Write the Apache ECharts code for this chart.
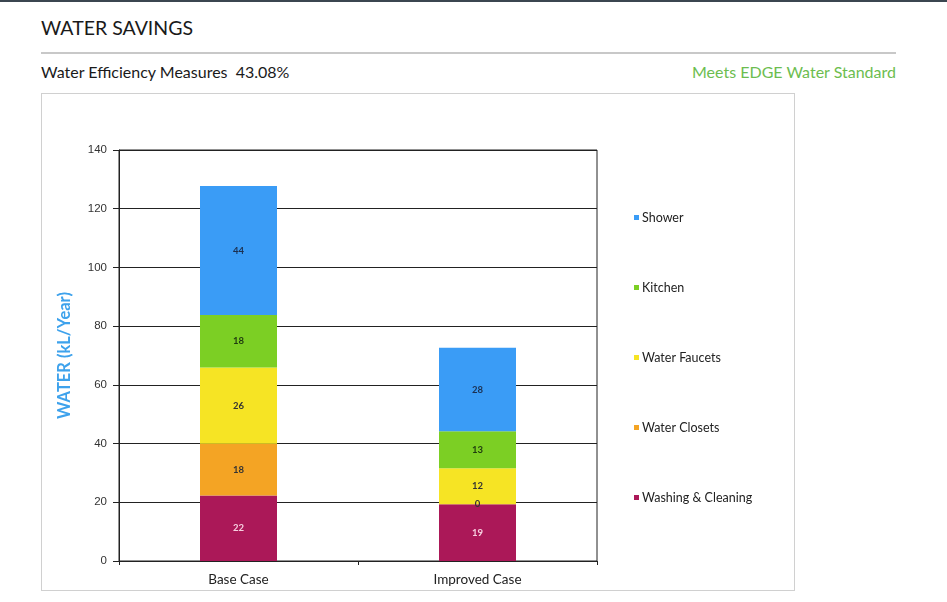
<!DOCTYPE html>
<html>
<head>
<meta charset="utf-8">
<script src="https://cdn.jsdelivr.net/npm/echarts@6/dist/echarts.min.js"></script>
<style>
  html, body { margin:0; padding:0; background:#fff; width:947px; height:602px; overflow:hidden; font-family: Lato, "Open Sans", sans-serif; }
  #topbar { position:absolute; left:0; top:0; width:947px; height:2px; background:#3b4650; }
  #title { position:absolute; left:41px; top:16px; font-size:19.5px; color:#1a1a1a; }
  #rule { position:absolute; left:41px; top:52px; width:855px; height:2px; background:#c8c8c8; }
  #sub { position:absolute; left:41px; top:62px; font-size:16px; color:#1a1a1a; }
  #meets { position:absolute; right:51px; top:62px; font-size:16px; color:#6cbd4f; }
  #box { position:absolute; left:41px; top:93px; width:752px; height:496px; border:1px solid #d0d0d0; }
  #chart { position:absolute; left:0; top:0; width:947px; height:602px; }
</style>
</head>
<body>
<div id="topbar"></div>
<div id="title">WATER SAVINGS</div>
<div id="rule"></div>
<div id="sub">Water Efficiency Measures&nbsp; 43.08%</div>
<div id="meets">Meets EDGE Water Standard</div>
<div id="box"></div>
<div id="chart"></div>
<script>
const categories = ["Base Case", "Improved Case"];
const washing = [22.3, 19.3];
const closets = [17.6, 0];
const faucets = [26.0, 12.3];
const kitchen = [17.9, 12.6];
const shower = [43.9, 28.4];
const yTicks = [0, 20, 40, 60, 80, 100, 120, 140];

const chart = echarts.init(document.getElementById('chart'), null, {renderer:'canvas'});

function mk(name, data, color, labelColor) {
  return {
    name: name, type: 'bar', stack: 'total', data: data, barWidth: 77,
    itemStyle: { color: color },
    label: { show: true, position: 'inside', color: labelColor, fontSize: 9.5, fontWeight: 'bold',
             fontFamily: 'Lato', formatter: p => Math.round(p.value) },
    emphasis: { disabled: true }
  };
}

chart.setOption({
  animation: false,
  grid: { left: 119, right: 350, top: 150, bottom: 41, show: true, borderColor: '#222', borderWidth: 1, backgroundColor: 'transparent' },
  legend: {
    orient: 'vertical', left: 629, top: 206, itemWidth: 5, itemHeight: 5, itemGap: 57,
    icon: 'rect', selectedMode: false,
    textStyle: { fontFamily: 'Lato', fontSize: 12.5, color: '#222', padding: [0, 0, 0, -2] },
    data: ['Shower', 'Kitchen', 'Water Faucets', 'Water Closets', 'Washing & Cleaning']
  },
  xAxis: {
    type: 'category', data: categories,
    axisLine: { lineStyle: { color: '#222' } },
    axisTick: { show: true, length: 4, lineStyle: { color: '#222' } },
    axisLabel: { fontFamily: 'Lato', fontSize: 13.5, color: '#222', margin: 12 }
  },
  yAxis: {
    type: 'value', min: yTicks[0], max: yTicks[yTicks.length - 1], interval: yTicks[1] - yTicks[0],
    name: 'WATER (kL/Year)', nameLocation: 'middle', nameGap: 46,
    nameTextStyle: { color: '#3ea2ec', fontSize: 16.5, fontWeight: 'bold', fontFamily: 'Lato' },
    axisLine: { show: true, lineStyle: { color: '#222' } },
    axisTick: { show: true, length: 6, lineStyle: { color: '#222' } },
    splitLine: { show: true, lineStyle: { color: '#222', width: 1 } },
    axisLabel: { fontFamily: 'Liberation Sans', fontSize: 11.5, color: '#333', margin: 12 }
  },
  series: [
    mk('Washing & Cleaning', washing, '#ab1858', '#f7d0e0'),
    mk('Water Closets', closets, '#f4a424', '#333'),
    mk('Water Faucets', faucets, '#f6e424', '#333'),
    mk('Kitchen', kitchen, '#7ccf24', '#1f3a10'),
    mk('Shower', shower, '#3a9cf6', '#1c3050')
  ]
});
</script>
</body>
</html>
